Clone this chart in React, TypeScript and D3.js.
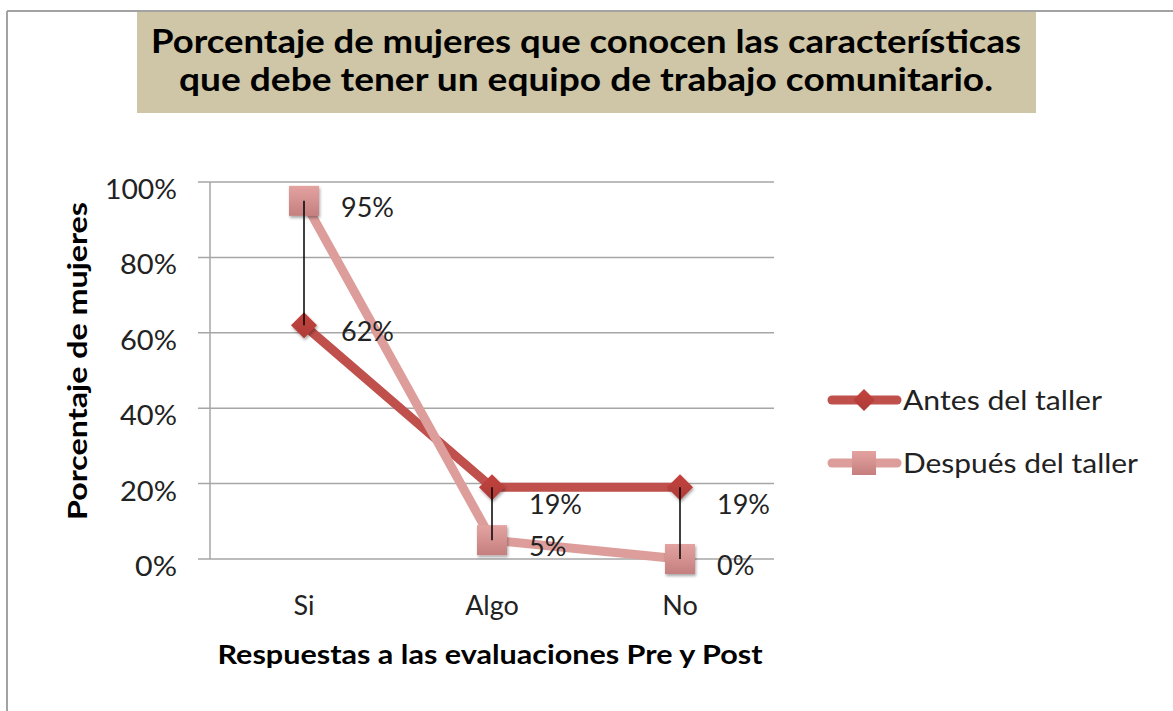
import React from "react";
import * as d3 from "d3";

const categories = ["Si", "Algo", "No"];
const antes = [0.62, 0.19, 0.19];
const despues = [0.95, 0.05, 0.0];
const seriesNames = ["Antes del taller", "Después del taller"];
const yTicks = [0, 0.2, 0.4, 0.6, 0.8, 1.0];
const titleLines = [
  "Porcentaje de mujeres que conocen las características",
  "que debe tener un equipo de trabajo comunitario.",
];
const yTitle = "Porcentaje de mujeres";
const xTitle = "Respuestas a las evaluaciones Pre y Post";

const W = 1173;
const H = 711;
const FONT = "Lato, 'Open Sans', sans-serif";

export default function App() {
  const x = d3.scalePoint<string>().domain(categories).range([210, 774]).padding(0.5);
  const y = d3.scaleLinear().domain([0, 1]).range([559, 182]);
  const fmt = d3.format(".0%");

  const lineGen = d3
    .line<number>()
    .x((_, i) => x(categories[i]) as number)
    .y((d) => y(d));

  const antesColor = "#bf504c";
  const despColor = "#dd9d9b";

  const diamond = (cx: number, cy: number, r: number) =>
    `M${cx},${cy - r}L${cx + r},${cy}L${cx},${cy + r}L${cx - r},${cy}Z`;

  return (
    <svg
      width={W}
      height={H}
      style={{ position: "absolute", left: 0, top: 0, background: "#fff" }}
      fontFamily={FONT}
    >
      <defs>
        <filter id="sh" x="-50%" y="-50%" width="200%" height="200%">
          <feDropShadow dx="1" dy="2" stdDeviation="1.5" floodColor="#000" floodOpacity="0.35" />
        </filter>
        <linearGradient id="sqg" x1="0" y1="0" x2="0" y2="1">
          <stop offset="0" stopColor="#e3a3a1" />
          <stop offset="1" stopColor="#c47f7e" />
        </linearGradient>
        <linearGradient id="dmg" x1="0" y1="0" x2="0" y2="1">
          <stop offset="0" stopColor="#c4423d" />
          <stop offset="1" stopColor="#ad3c38" />
        </linearGradient>
      </defs>

      {/* outer border */}
      <line x1={7} y1={11} x2={W} y2={11} stroke="#a3a3a3" strokeWidth={2} />
      <line x1={7} y1={11} x2={7} y2={H} stroke="#a3a3a3" strokeWidth={2} />

      {/* title */}
      <rect x={137} y={12} width={899} height={101} fill="#cec6a7" />
      {titleLines.map((t, i) => (
        <text
          key={i}
          x={586}
          y={i === 0 ? 53 : 91}
          textAnchor="middle"
          fontWeight="bold"
          fontSize={33}
          fill="#000"
          textLength={i === 0 ? 870 : 814}
          lengthAdjust="spacingAndGlyphs"
        >
          {t}
        </text>
      ))}

      {/* gridlines */}
      {yTicks.map((t) => (
        <g key={t}>
          <line x1={198} x2={774} y1={y(t)} y2={y(t)} stroke="#a6a6a6" strokeWidth={1.5} />
          <text
            x={177}
            y={y(t) + 17}
            textAnchor="end"
            fontSize={26}
            fill="#222"
            textLength={t === 1 ? 72 : t === 0 ? 42 : 57}
            lengthAdjust="spacingAndGlyphs"
          >
            {fmt(t)}
          </text>
        </g>
      ))}
      <line x1={210} x2={210} y1={y(1)} y2={y(0)} stroke="#a6a6a6" strokeWidth={1.5} />

      {/* x tick labels */}
      {categories.map((c) => (
        <text key={c} x={x(c)} y={615} textAnchor="middle" fontSize={27} fill="#222">
          {c}
        </text>
      ))}

      {/* axis titles */}
      <text
        transform={`translate(87,361) rotate(-90)`}
        textAnchor="middle"
        fontWeight="bold"
        fontSize={26}
        textLength={318}
        lengthAdjust="spacingAndGlyphs"
      >
        {yTitle}
      </text>
      <text
        x={490}
        y={664}
        textAnchor="middle"
        fontWeight="bold"
        fontSize={27}
        textLength={545}
        lengthAdjust="spacingAndGlyphs"
      >
        {xTitle}
      </text>

      {/* Antes series */}
      <path d={lineGen(antes) || ""} fill="none" stroke={antesColor} strokeWidth={9} strokeLinejoin="round" />
      {antes.map((v, i) => (
        <path key={i} d={diamond(x(categories[i]) as number, y(v), 13)} fill="url(#dmg)" filter="url(#sh)" />
      ))}

      {/* Después series */}
      <path d={lineGen(despues) || ""} fill="none" stroke={despColor} strokeWidth={9} strokeLinejoin="round" />
      {despues.map((v, i) => (
        <rect
          key={i}
          x={(x(categories[i]) as number) - 15}
          y={y(v) - 15}
          width={30}
          height={30}
          fill="url(#sqg)"
          filter="url(#sh)"
        />
      ))}

      {/* high-low lines */}
      {categories.map((c, i) => (
        <line
          key={c}
          x1={x(c)}
          x2={x(c)}
          y1={y(Math.max(antes[i], despues[i]))}
          y2={y(Math.min(antes[i], despues[i]))}
          stroke="#000"
          strokeWidth={1.5}
        />
      ))}

      {/* data labels */}
      {[antes, despues].map((vals, s) =>
        vals.map((v, i) => (
          <text
            key={`${s}-${i}`}
            x={(x(categories[i]) as number) + 37}
            y={y(v) + (s === 0 && i > 0 ? 18 : 7) + 9}
            fontSize={27}
            fill="#222"
          >
            {fmt(v)}
          </text>
        ))
      )}

      {/* legend */}
      {seriesNames.map((n, i) => {
        const ly = i === 0 ? 400 : 463;
        const col = i === 0 ? antesColor : despColor;
        return (
          <g key={n}>
            <line x1={832} x2={897} y1={ly} y2={ly} stroke={col} strokeWidth={9} strokeLinecap="round" />
            {i === 0 ? (
              <path d={diamond(864, ly, 11)} fill="url(#dmg)" />
            ) : (
              <rect x={852} y={ly - 12} width={24} height={24} fill="url(#sqg)" />
            )}
            <text
              x={903}
              y={ly + 10}
              fontSize={27}
              fill="#222"
              textLength={i === 0 ? 199 : 235}
              lengthAdjust="spacingAndGlyphs"
            >
              {n}
            </text>
          </g>
        );
      })}
    </svg>
  );
}
